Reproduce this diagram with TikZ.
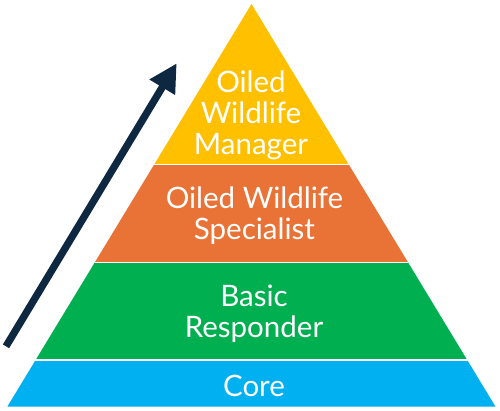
\documentclass[tikz,border=0pt]{standalone}
\usepackage{fontspec}
\setmainfont{Lato}
\usetikzlibrary{arrows.meta}
\definecolor{coreblue}{RGB}{0,176,240}
\definecolor{basicgreen}{RGB}{0,176,80}
\definecolor{specorange}{RGB}{233,114,54}
\definecolor{mgryellow}{RGB}{255,192,0}
\definecolor{navy}{RGB}{14,40,65}
\begin{document}
\begin{tikzpicture}[x=1pt,y=-1pt,
  level/.style={text=white,align=center,font=\fontsize{29.5}{31}\selectfont},
  gap/.style={white,line width=1.5pt}]
  \useasboundingbox (0,0) rectangle (500,411);
  \coordinate (apex) at (251.5,4);
  \coordinate (left) at (7.3,406.7);
  \coordinate (right) at (495.5,406.7);
  \begin{scope}
    \clip (apex) -- (left) -- (right) -- cycle;
    \fill[mgryellow] (0,0) rectangle (500,164.3);
    \fill[specorange] (0,164.3) rectangle (500,262.3);
    \fill[basicgreen] (0,262.3) rectangle (500,360);
    \fill[coreblue] (0,360) rectangle (500,411);
    \draw[gap] (0,164.3) -- (500,164.3);
    \draw[gap] (0,262.3) -- (500,262.3);
    \draw[gap] (0,360) -- (500,360);
  \end{scope}
  \node[level] (manager) at (251,115) {Oiled\\Wildlife\\Manager};
  \node[level] (specialist) at (254.5,216) {Oiled Wildlife\\Specialist};
  \node[level] (responder) at (254,313.5) {Basic\\Responder};
  \node[level] (core) at (254,386) {Core};
  \coordinate (tail) at (6,346.3);
  \coordinate (tip) at (176.7,63.3);
  \draw[navy,line width=7.3pt,-{Triangle[width=28pt,length=28pt]}] (tail) -- (tip);
\end{tikzpicture}
\end{document}
